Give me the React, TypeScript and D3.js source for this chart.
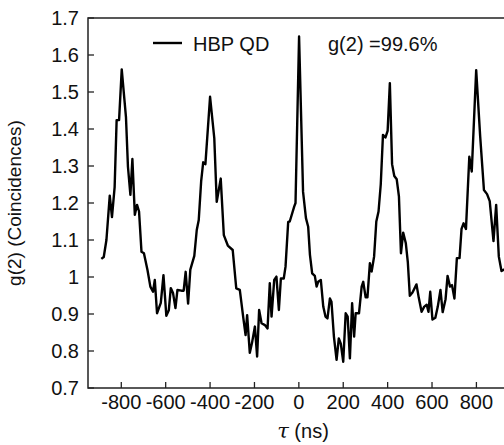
import React from "react";
import * as d3 from "d3";

const tau = [
  -890, -879, -867, -852, -842, -830, -821, -810, -798, -779, -770, -759, -750, -739, -729, -720,
  -709, -698, -682, -669, -657, -649, -639, -622, -610, -597, -586, -577, -567, -556, -547, -529,
  -519, -510, -499, -489, -471, -460, -451, -440, -431, -421, -400, -381, -370, -352, -338, -320,
  -298, -282, -266, -251, -240, -233, -221, -211, -198, -188, -179, -168, -153, -141, -131, -123,
  -111, -101, -90, -81, -68, -60, -48, -41, -21, -15, 1, 19, 32, 42, 50, 60,
  72, 80, 87, 99, 110, 120, 129, 140, 147, 158, 170, 180, 189, 200, 211, 220,
  230, 240, 249, 256, 271, 283, 290, 301, 309, 320, 328, 339, 349, 359, 369, 379,
  390, 400, 410, 420, 430, 441, 451, 460, 470, 482, 491, 500, 512, 530, 540, 553,
  565, 576, 584, 592, 602, 615, 626, 638, 648, 661, 670, 681, 690, 701, 712, 724,
  733, 742, 753, 768, 779, 799, 817, 834, 848, 860, 877, 889, 901, 913, 924, 936,
];

const g2 = [
  1.049, 1.054, 1.1, 1.22, 1.162, 1.243, 1.424, 1.424, 1.561, 1.433, 1.298, 1.222, 1.319, 1.168, 1.195, 1.177,
  1.068, 1.064, 1.019, 0.974, 0.96, 0.992, 0.902, 0.93, 1.005, 0.895, 0.91, 0.97, 0.957, 0.916, 0.965, 0.963,
  0.963, 1.014, 0.928, 1.02, 1.057, 1.127, 1.154, 1.26, 1.31, 1.305, 1.487, 1.375, 1.203, 1.266, 1.113, 1.085,
  1.073, 0.969, 0.965, 0.893, 0.843, 0.897, 0.795, 0.822, 0.866, 0.785, 0.911, 0.875, 0.87, 0.861, 0.983, 0.893,
  0.992, 1.001, 0.911, 0.996, 0.996, 1.028, 1.149, 1.15, 1.19, 1.2, 1.65, 1.23, 1.159, 1.136, 1.06, 1.01,
  1.003, 0.974, 0.987, 0.992, 0.92, 0.893, 0.888, 0.942, 0.933, 0.839, 0.776, 0.834, 0.82, 0.771, 0.902, 0.893,
  0.78, 0.929, 0.839, 0.902, 0.902, 0.974, 0.987, 0.945, 0.945, 1.037, 1.015, 1.055, 1.15, 1.177, 1.25, 1.384,
  1.377, 1.395, 1.524, 1.305, 1.273, 1.264, 1.217, 1.064, 1.12, 1.091, 1.04, 0.949, 0.958, 0.98, 0.945, 0.906,
  0.92, 0.925, 0.906, 0.96, 0.885, 0.89, 0.92, 0.965, 0.905, 0.94, 1.003, 0.974, 0.978, 0.942, 1.051, 1.051,
  1.13, 1.145, 1.13, 1.325, 1.285, 1.559, 1.38, 1.235, 1.224, 1.205, 1.097, 1.195, 1.055, 1.016, 1.02, 1.02,
];

const xTicks = [-800, -600, -400, -200, 0, 200, 400, 600, 800];
const yTicks = [0.7, 0.8, 0.9, 1.0, 1.1, 1.2, 1.3, 1.4, 1.5, 1.6, 1.7];

const seriesName = "HBP QD";
const annotation = "g(2) =99.6%";

export default function App() {
  const W = 504;
  const H = 445;
  const left = 88;
  const top = 18;
  const bottom = 388;
  const right = 509.7;
  const font = "'Liberation Sans', Arial, sans-serif";

  const x = d3.scaleLinear().domain([-950, 950]).range([left, right]);
  const y = d3.scaleLinear().domain([0.7, 1.7]).range([bottom, top]);

  const pts: [number, number][] = tau.map((t, i) => [t, g2[i]]);
  const line = d3
    .line<[number, number]>()
    .x((d) => x(d[0]))
    .y((d) => y(d[1]));

  const fmt = (v: number) => String(+v.toFixed(1));

  return (
    <svg
      width={W}
      height={H}
      style={{ position: "absolute", left: 0, top: 0, background: "#fff" }}
      fontFamily={font}
    >
      <defs>
        <clipPath id="plotclip">
          <rect x={left} y={top} width={right - left} height={bottom - top} />
        </clipPath>
      </defs>
      <rect x={0} y={0} width={W} height={H} fill="#fff" />
      <path
        d={line(pts) || ""}
        fill="none"
        stroke="#000"
        strokeWidth={2.4}
        strokeLinejoin="round"
        clipPath="url(#plotclip)"
      />
      <rect
        x={left}
        y={top}
        width={right - left}
        height={bottom - top}
        fill="none"
        stroke="#222"
        strokeWidth={1.5}
      />
      {yTicks.map((v) => (
        <g key={"y" + v}>
          <line x1={left} x2={left + 6} y1={y(v)} y2={y(v)} stroke="#222" strokeWidth={1.3} />
          <text
            x={left - 9}
            y={y(v)}
            textAnchor="end"
            dominantBaseline="central"
            fontSize={20}
            fill="#111"
          >
            {fmt(v)}
          </text>
        </g>
      ))}
      {xTicks.map((v) => (
        <g key={"x" + v}>
          <line x1={x(v)} x2={x(v)} y1={bottom} y2={bottom - 6} stroke="#222" strokeWidth={1.3} />
          <text x={x(v)} y={409} textAnchor="middle" fontSize={20} fill="#111">
            {String(v)}
          </text>
        </g>
      ))}
      <text x={303} y={438} textAnchor="middle" fontSize={20} fill="#111">
        <tspan fontFamily="'DejaVu Serif', serif" fontStyle="italic" fontSize={21}>τ</tspan>
        <tspan> (ns)</tspan>
      </text>
      <text
        transform={`translate(21, ${(top + bottom) / 2}) rotate(-90)`}
        textAnchor="middle"
        fontSize={19}
        fill="#111"
      >
        g(2) (Coincidences)
      </text>
      <line x1={153} x2={182} y1={43} y2={43} stroke="#000" strokeWidth={2.4} />
      <text x={193} y={51} fontSize={20} fill="#111">
        {seriesName}
      </text>
      <text x={328} y={51} fontSize={20} fill="#111">
        {annotation}
      </text>
    </svg>
  );
}
